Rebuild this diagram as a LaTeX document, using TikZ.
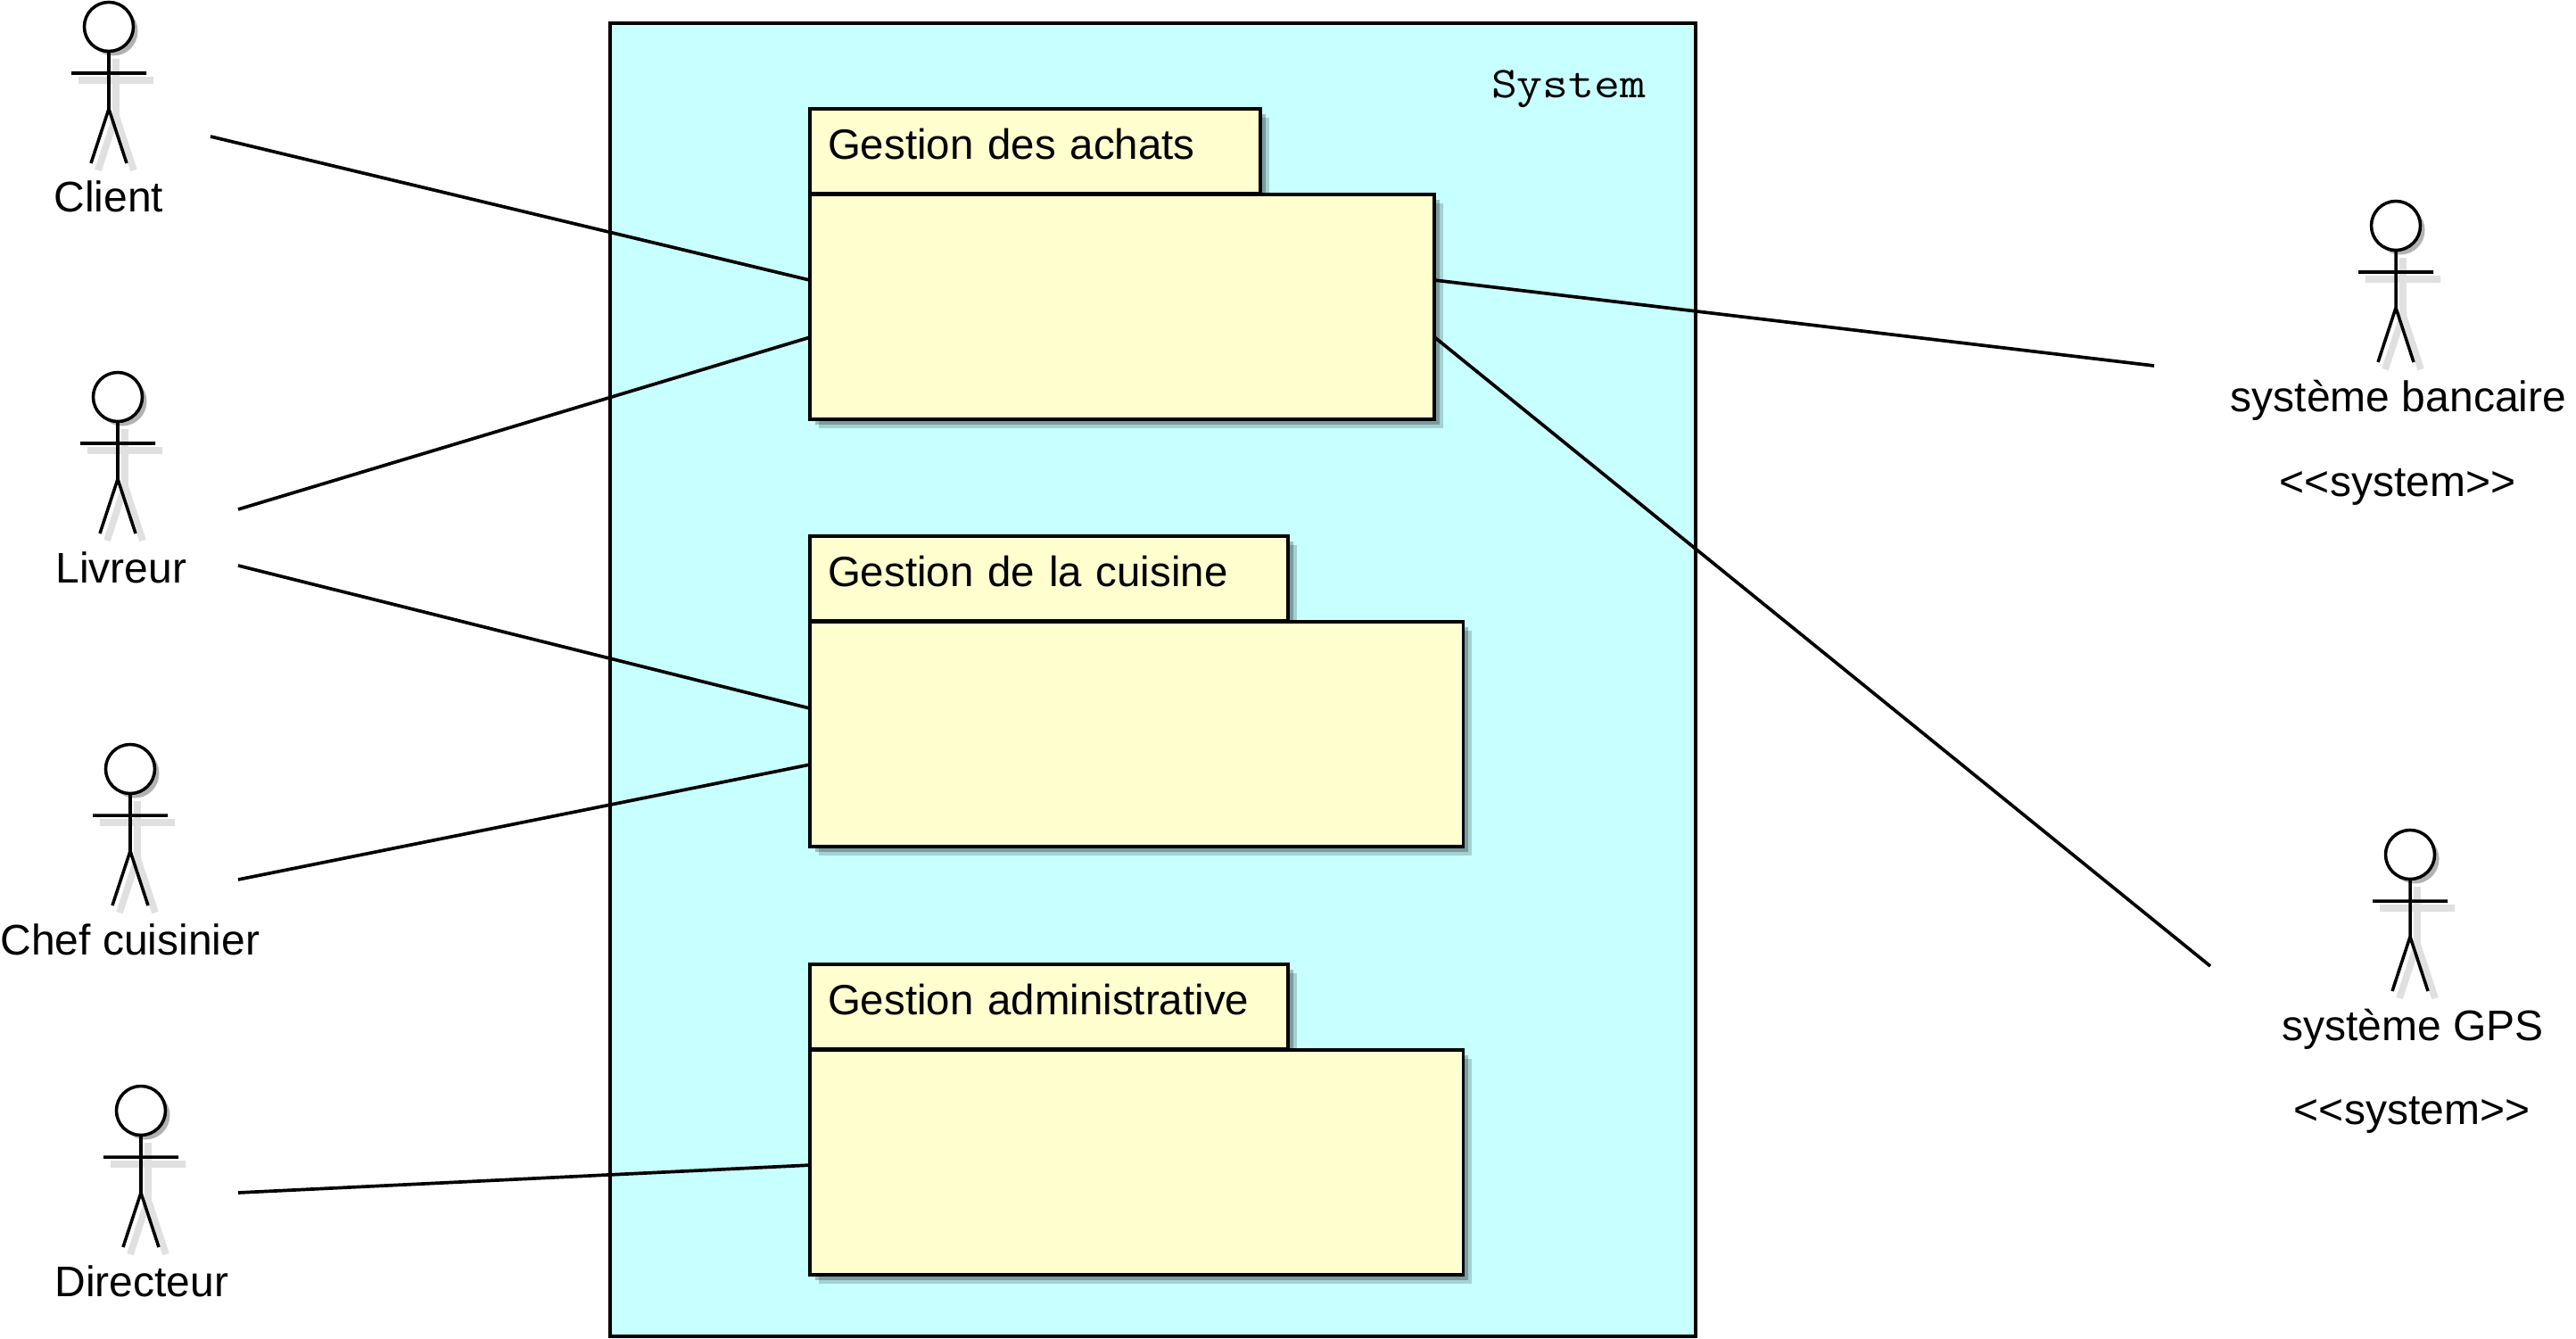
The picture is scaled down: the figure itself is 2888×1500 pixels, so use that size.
\documentclass[tikz,border=0pt]{standalone}
\usepackage{fontspec}
\usepackage{xcolor}
\usepackage{tikz}
\usetikzlibrary{shadows}
\setmainfont{Liberation Sans}
\newfontfamily\sysfont[FakeStretch=1.14]{Latin Modern Mono}
\definecolor{sysblue}{RGB}{200,255,255}
\definecolor{pkgyellow}{RGB}{254,254,206}

\tikzset{
    lbl/.style={font=\fontsize{13.65}{16}\selectfont, inner sep=0, outer sep=0},
    systembox/.style={draw, line width=1.1pt, fill=sysblue, inner sep=0, outer sep=0, anchor=north west, minimum width=12.16cm, minimum height=14.71cm},
    softshadow/.style={drop shadow={shadow xshift=0.1cm, shadow yshift=-0.1cm, fill=black, opacity=0.18},
                       drop shadow={shadow xshift=0.06cm, shadow yshift=-0.06cm, fill=black, opacity=0.25}},
    pkgtab/.style={lbl, font=\fontsize{13.5}{16}\selectfont, draw, line width=1.1pt, fill=pkgyellow, anchor=north west, softshadow, align=left, inner xsep=0.2cm, text width=#1, text height=0.56cm, text depth=0.39cm},
    pkgbody/.style={draw, line width=1.1pt, fill=pkgyellow, anchor=north west, softshadow, inner sep=0, outer sep=0, minimum width=#1, minimum height=2.52cm},
    actorhead/.style={draw, line width=1pt, circle, fill=white, inner sep=0, outer sep=0, minimum size=0.55cm, drop shadow={shadow xshift=0.05cm, shadow yshift=-0.05cm, fill=black, opacity=0.3}},
    actorline/.style={line width=1pt},
    actorshadow/.style={line width=2.2pt, black!12},
    link/.style={line width=1.05pt}
}

% name, x, y, label, label shift
\newcommand{\actorfig}[5]{
    \begin{scope}[shift={(#2,#3)}]
        \draw[actorshadow, shift={(8,8)}] (0,28) -- (0,92) (-42,52) -- (42,52) (-20,153) -- (0,92) -- (20,153);
        \draw[actorline] (0,28) -- (0,92) (-42,52) -- (42,52) (-20,153) -- (0,92) -- (20,153);
        \node[actorhead] (#1) at (0,0) {};
        \node[lbl, anchor=base] (#1lbl) at (#5,208) {#4};
    \end{scope}
}

\begin{document}
\begin{tikzpicture}[x=0.01cm, y=-0.01cm]
    \useasboundingbox (0,0) rectangle (2888,1500);

    % System box
    \node[systembox] (system) at (684,26) {};
    \node[lbl, anchor=base west] (systemlbl) at (1672,110) {\fontsize{14}{16}\sysfont System};

    % Packages
    \node[pkgtab=4.65cm] (tabachats) at (908,122) {Gestion des achats};
    \node[pkgbody=7cm] (bodyachats) at (908,218) {};
    \node[pkgtab=4.96cm] (tabcuisine) at (908,601) {Gestion de la cuisine};
    \node[pkgbody=7.32cm] (bodycuisine) at (908,697) {};
    \node[pkgtab=4.96cm] (tabadmin) at (908,1081) {Gestion administrative};
    \node[pkgbody=7.32cm] (bodyadmin) at (908,1177) {};

    % Actors left
    \actorfig{client}{122}{30}{Client}{0}
    \actorfig{livreur}{132}{445}{Livreur}{4}
    \actorfig{chef}{146}{862}{Chef cuisinier}{0}
    \actorfig{directeur}{158}{1245}{Directeur}{1}

    % Actors right
    \actorfig{banque}{2686}{253}{système bancaire}{3}
    \node[lbl, anchor=base] (banquesys) at (2688,556) {<{}<system>{}>};
    \actorfig{gps}{2702}{958}{système GPS}{3}
    \node[lbl, anchor=base] (gpssys) at (2704,1260) {<{}<system>{}>};

    % Free ends near the actors
    \coordinate (clientout) at (236,153);
    \coordinate (livreurouta) at (267,571);
    \coordinate (livreuroutb) at (267,634);
    \coordinate (chefout) at (267,986);
    \coordinate (directeurout) at (267,1337);
    \coordinate (banqueout) at (2415,410);
    \coordinate (gpsout) at (2478,1083);

    % Links
    \draw[link] (clientout) -- ([yshift=0.3cm]bodyachats.west);
    \draw[link] (livreurouta) -- ([yshift=-0.34cm]bodyachats.west);
    \draw[link] (livreuroutb) -- ([yshift=0.29cm]bodycuisine.west);
    \draw[link] (chefout) -- ([yshift=-0.34cm]bodycuisine.west);
    \draw[link] (directeurout) -- ([yshift=-0.03cm]bodyadmin.west);
    \draw[link] ([yshift=0.3cm]bodyachats.east) -- (banqueout);
    \draw[link] ([yshift=-0.34cm]bodyachats.east) -- (gpsout);
\end{tikzpicture}
\end{document}
